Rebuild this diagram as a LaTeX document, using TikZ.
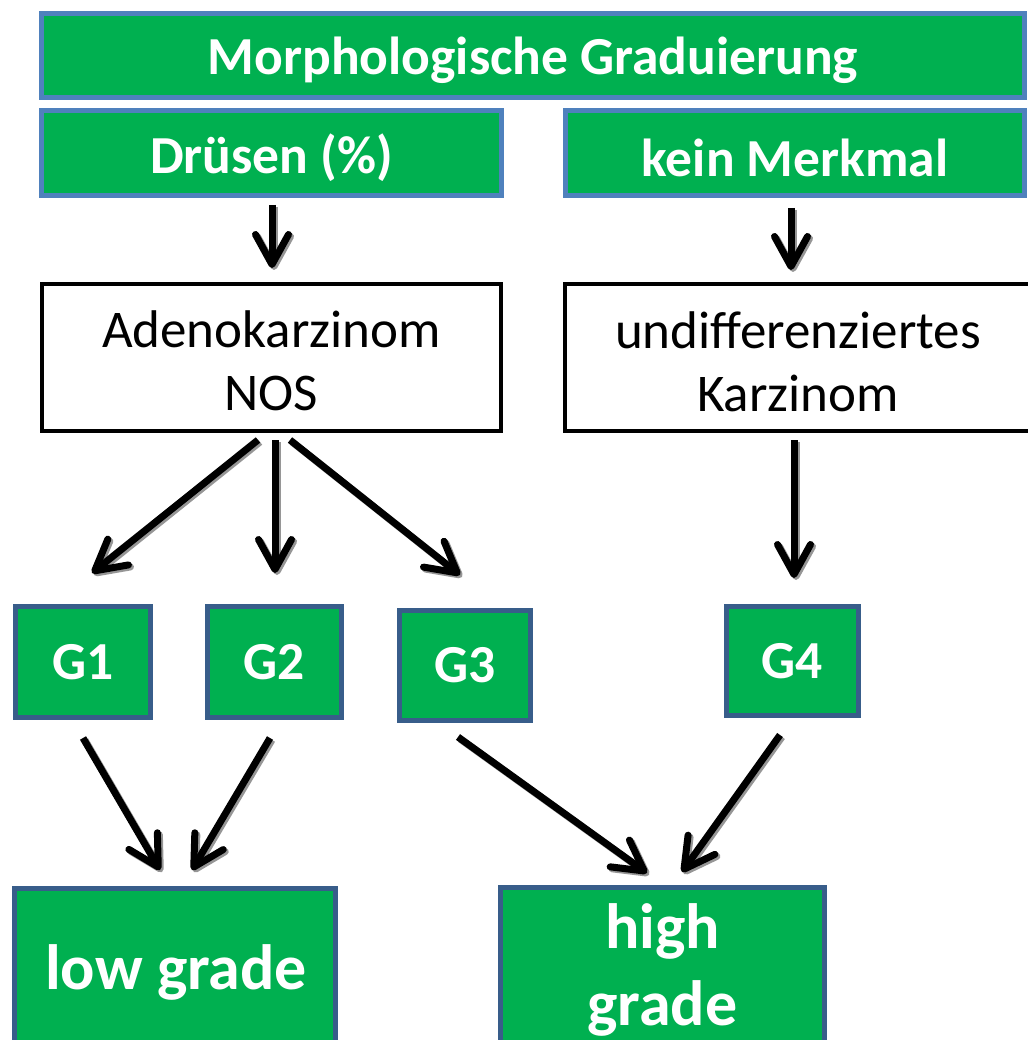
\documentclass[tikz,border=0pt]{standalone}
\usepackage{fontspec}
\setmainfont{Carlito}
\usetikzlibrary{arrows.meta}
\definecolor{offgreen}{RGB}{0,176,80}
\definecolor{lightblue}{RGB}{79,129,189}
\definecolor{darkblue}{RGB}{56,93,138}
\definecolor{shadowgray}{RGB}{150,150,150}
\tikzset{
  greenbox/.style={draw=lightblue, line width=5pt, fill=offgreen, inner sep=0pt},
  gbox/.style={draw=darkblue, line width=5pt, fill=offgreen, inner sep=0pt},
  whitebox/.style={draw=black, line width=4pt, fill=white, inner sep=0pt},
  btext/.style={text=black, font=\fontsize{53}{63}\selectfont, inner sep=0pt, align=center},
  wtext/.style={text=white, font=\bfseries\fontsize{53.5}{62}\selectfont, inner sep=0pt, align=center},
  bigtext/.style={text=white, font=\bfseries\fontsize{64}{77}\selectfont, inner sep=0pt, align=center},
  arr/.style={draw=black, line width=7pt, -{Straight Barb[length=30pt, width=33pt, round]}},
  arrsh/.style={draw=shadowgray, line width=7pt, -{Straight Barb[length=30pt, width=33pt, round]}},
}
\newcommand\myarrow[2]{%
  \draw[arrsh] ([shift={(2,2)}]#1) -- ([shift={(2,2)}]#2);
  \draw[arr] (#1) -- (#2);}
\begin{document}
\begin{tikzpicture}[x=1pt,y=-1pt]
\useasboundingbox (0,0) rectangle (1027,1040);
% top boxes
\node[greenbox, minimum width=983pt, minimum height=84pt] (top) at (533,55.5) {};
\node[wtext] (toptxt) at (533,60) {Morphologische Graduierung};
\node[greenbox, minimum width=460pt, minimum height=85pt] (druesen) at (271.5,153) {};
\node[wtext] (druesentxt) at (271.5,158) {Drüsen (\%)};
\node[greenbox, minimum width=459pt, minimum height=85pt] (merkmal) at (795,153) {};
\node[wtext] (merkmaltxt) at (795,158) {kein Merkmal};
% white boxes
\node[whitebox, minimum width=459pt, minimum height=147pt] (adeno) at (271.5,357.5) {};
\node[btext] (adenotxt) at (271.5,361) {Adenokarzinom\\NOS};
\node[whitebox, minimum width=470pt, minimum height=147pt] (undiff) at (800,357.5) {};
\node[btext] (undifftxt) at (798,362) {undifferenziertes\\Karzinom};
% G boxes
\node[gbox, wtext, minimum width=135pt, minimum height=111pt] (g1) at (83,662) {G1};
\node[gbox, wtext, minimum width=134pt, minimum height=111pt] (g2) at (274.5,662) {G2};
\node[gbox, wtext, minimum width=131pt, minimum height=110pt] (g3) at (465,665.5) {G3};
\node[gbox, wtext, minimum width=132pt, minimum height=109pt] (g4) at (792.5,661) {G4};
% bottom boxes
\node[gbox, minimum width=321pt, minimum height=180pt] (low) at (175,978.5) {};
\node[bigtext] (lowtxt) at (176,972) {low grade};
\node[gbox, minimum width=324pt, minimum height=180pt] (high) at (662.5,977.5) {};
\node[bigtext] (hightxt) at (662.5,970) {high\\grade};
% arrow coordinates
\coordinate (a1s) at (272,205); \coordinate (a1e) at (272,268);
\coordinate (a2s) at (791,208); \coordinate (a2e) at (791,270);
\coordinate (a3s) at (258,440); \coordinate (a3e) at (92,573);
\coordinate (a4s) at (275,440); \coordinate (a4e) at (275,573);
\coordinate (a5s) at (290,440); \coordinate (a5e) at (460,575);
\coordinate (a6s) at (794,440); \coordinate (a6e) at (794,578);
\coordinate (a7s) at (83,738); \coordinate (a7e) at (160,870);
\coordinate (a8s) at (270,738); \coordinate (a8e) at (192,870);
\coordinate (a9s) at (458,737); \coordinate (a9e) at (647,873);
\coordinate (a10s) at (780,735); \coordinate (a10e) at (682,872);
\myarrow{a1s}{a1e}
\myarrow{a2s}{a2e}
\myarrow{a3s}{a3e}
\myarrow{a4s}{a4e}
\myarrow{a5s}{a5e}
\myarrow{a6s}{a6e}
\myarrow{a7s}{a7e}
\myarrow{a8s}{a8e}
\myarrow{a9s}{a9e}
\myarrow{a10s}{a10e}
\end{tikzpicture}
\end{document}
